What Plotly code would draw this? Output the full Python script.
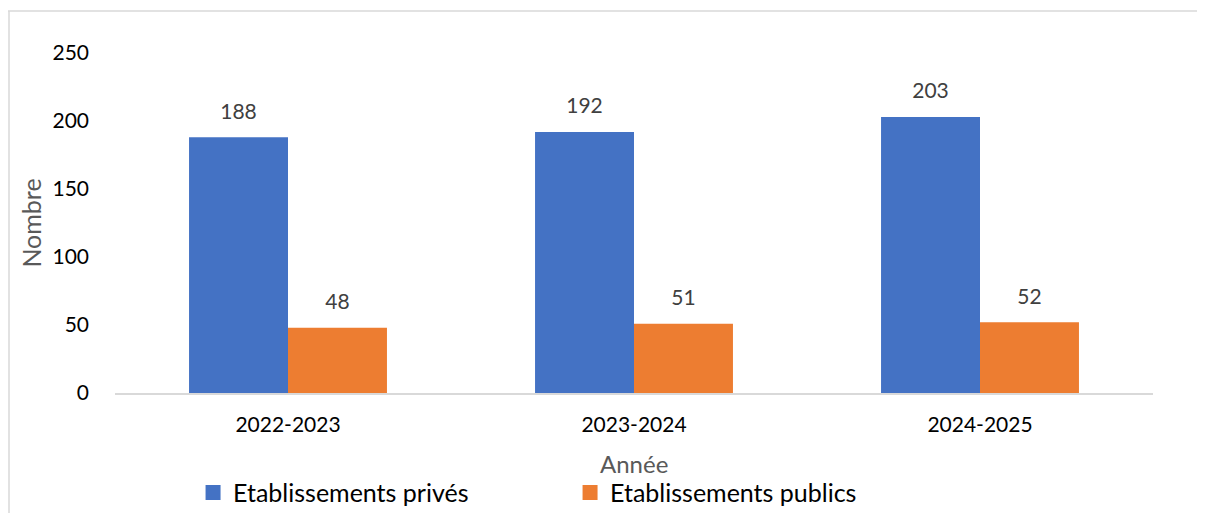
import plotly.graph_objects as go

categories = ["2022-2023", "2023-2024", "2024-2025"]
prives = [188, 192, 203]
publics = [48, 51, 52]
series_names = ["Etablissements privés", "Etablissements publics"]
colors = ["#4472C4", "#ED7D31"]
y_ticks = [0, 50, 100, 150, 200, 250]
x_title = "Année"
y_title = "Nombre"

FONT = "Lato"
BARGAP = 0.428

fig = go.Figure()
for i, (name, vals, col) in enumerate(zip(series_names, [prives, publics], colors)):
    fig.add_trace(go.Bar(
        x=categories, y=vals, name=name, marker_color=col, marker_line_width=0,
        offsetgroup=str(i), showlegend=False,
    ))
# value labels, grouped like the bars
for i, vals in enumerate([prives, publics]):
    fig.add_trace(go.Scatter(
        x=categories, y=vals, mode="markers+text", offsetgroup=str(i),
        text=[str(v) for v in vals], textposition="top center",
        textfont=dict(family=FONT, size=21, color="#404040"),
        marker=dict(size=20, color="rgba(0,0,0,0)"),
        cliponaxis=False, showlegend=False, hoverinfo="skip",
    ))
# legend proxies
for name, col in zip(series_names, colors):
    fig.add_trace(go.Scatter(
        x=[None], y=[None], mode="markers", name=name,
        marker=dict(symbol="square", size=15, color=col),
    ))

fig.update_layout(
    width=1197, height=505,
    margin=dict(l=107, r=52, t=45, b=120, autoexpand=False),
    plot_bgcolor="white", paper_bgcolor="white",
    barmode="group", bargap=BARGAP, bargroupgap=0,
    scattermode="group", scattergap=BARGAP,
    font=dict(family=FONT, size=21, color="#000000"),
    xaxis=dict(
        showgrid=False, showline=True, linecolor="#D9D9D9", linewidth=2,
        ticks="", ticklabelstandoff=12,
        tickfont=dict(family=FONT, size=21, color="#000000"),
    ),
    yaxis=dict(
        range=[0, 250], tickvals=y_ticks, showgrid=False, showline=False, zeroline=False,
        ticks="", ticklabelstandoff=25,
        tickfont=dict(family=FONT, size=21, color="#000000"),
        title=dict(text=y_title, font=dict(family=FONT, size=25, color="#595959"), standoff=3),
    ),
    legend=dict(
        orientation="h", x=0.0752, xanchor="left",
        yref="container", y=0.04, yanchor="middle",
        font=dict(family=FONT, size=25, color="#000000"),
        entrywidth=332, itemsizing="trace",
    ),
    annotations=[
        dict(text=x_title, xref="paper", yref="paper", x=0.5, y=-(455 - 385) / 340,
             xanchor="center", yanchor="middle", showarrow=False,
             font=dict(family=FONT, size=24, color="#595959")),
    ],
    shapes=[
        dict(type="line", xref="paper", yref="paper",
             x0=0 - 107 / 1038, x1=(1210 - 107) / 1038,
             y0=(385 - 3) / 340, y1=(385 - 3) / 340,
             line=dict(color="#D9D9D9", width=1.5)),
        dict(type="line", xref="paper", yref="paper",
             x0=(1 - 107) / 1038, x1=(1 - 107) / 1038,
             y0=(385 - 3) / 340, y1=(385 - 520) / 340,
             line=dict(color="#D9D9D9", width=1.5)),
    ],
)

fig.write_html("out.html")
